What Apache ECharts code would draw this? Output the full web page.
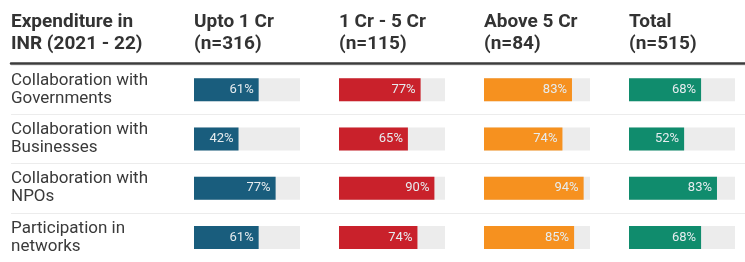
<!DOCTYPE html>
<html>
<head>
<meta charset="utf-8">
<script src="https://cdn.jsdelivr.net/npm/echarts@6/dist/echarts.min.js"></script>
<style>
  html, body { margin: 0; padding: 0; background: #fff; }
  #chart { width: 745px; height: 262px; }
</style>
</head>
<body>
<div id="chart"></div>
<script>
// rows and column headers
var rows = ['Collaboration with\nGovernments', 'Collaboration with\nBusinesses', 'Collaboration with\nNPOs', 'Participation in\nnetworks'];
var headers = ['Expenditure in\nINR (2021 - 22)', 'Upto 1 Cr\n(n=316)', '1 Cr - 5 Cr\n(n=115)', 'Above 5 Cr\n(n=84)', 'Total\n(n=515)'];

// share of respondents, %
var upto1Cr = [61, 42, 77, 61];
var cr1to5 = [77, 65, 90, 74];
var above5Cr = [83, 74, 94, 85];
var total = [68, 52, 83, 68];

var colData = [upto1Cr, cr1to5, above5Cr, total];
var colColor = ['#195d7d', '#c9212b', '#f6911f', '#108c6d'];
var colLeft = [194, 339, 484, 629];
var headerLeft = [11, 194, 339, 484, 629];

var font = 'Roboto, "Noto Sans", sans-serif';
var gridTop = 65, gridHeight = 207;

var grids = [], xAxes = [], yAxes = [], series = [], titles = [];

// background grid: header rule + row separators + row labels
grids.push({ left: 11, right: 0, top: gridTop, height: gridHeight });
xAxes.push({
  gridIndex: 0, type: 'value', min: 0, max: 1, position: 'top', offset: 2,
  axisLine: { show: true, lineStyle: { color: '#3c3c3c', width: 2.5 } },
  axisTick: { show: false }, axisLabel: { show: false }, splitLine: { show: false }
});
yAxes.push({
  gridIndex: 0, type: 'category', inverse: true, data: rows,
  axisLine: { show: false }, axisTick: { show: false },
  splitLine: { show: true, lineStyle: { color: '#ececec', width: 1 } },
  axisLabel: {
    inside: true, margin: 0, align: 'left',
    color: '#3a3a3a', fontSize: 17, lineHeight: 18, fontFamily: font
  }
});

for (var i = 0; i < 4; i++) {
  var g = i + 1;
  grids.push({ left: colLeft[i], width: 106, top: gridTop, height: gridHeight });
  xAxes.push({ gridIndex: g, type: 'value', min: 0, max: 100, show: false });
  yAxes.push({ gridIndex: g, type: 'category', inverse: true, data: rows, show: false });
  series.push({
    type: 'bar', xAxisIndex: g, yAxisIndex: g, silent: true,
    data: rows.map(function () { return 100; }),
    barWidth: 23, barGap: '-100%',
    itemStyle: { color: '#ececec' }
  });
  series.push({
    type: 'bar', xAxisIndex: g, yAxisIndex: g,
    data: colData[i],
    barWidth: 23, barGap: '-100%',
    itemStyle: { color: colColor[i] },
    label: {
      show: true, position: 'insideRight', distance: 5,
      formatter: '{c}%', color: '#e6ecef', fontSize: 13, fontFamily: font
    }
  });
}

for (var j = 0; j < headers.length; j++) {
  titles.push({
    text: headers[j], left: headerLeft[j], top: 11, padding: 0,
    textStyle: { fontSize: 19, fontWeight: 'bold', color: '#333', lineHeight: 22, fontFamily: font }
  });
}

var myChart = echarts.init(document.getElementById('chart'));
myChart.setOption({
  animation: false,
  title: titles,
  grid: grids,
  xAxis: xAxes,
  yAxis: yAxes,
  series: series
});
</script>
</body>
</html>
